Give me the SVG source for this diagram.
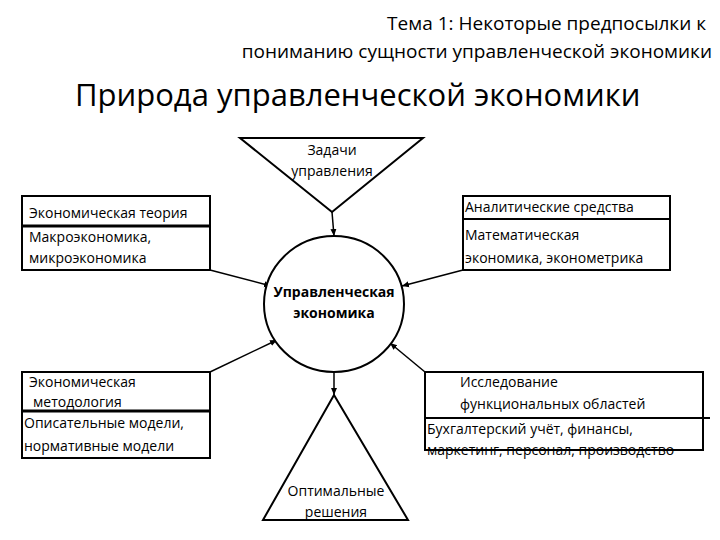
<svg xmlns="http://www.w3.org/2000/svg" width="720" height="540" viewBox="0 0 720 540">
<defs>
<style>
text{font-family:"Open Sans","Liberation Sans",sans-serif;fill:#000}
.s{font-size:14px}
.b{fill:#fff;stroke:#000;stroke-width:2}
.l{stroke:#000;stroke-width:1.5;fill:none}
</style>
<marker id="a" markerWidth="8" markerHeight="8" refX="7" refY="4" orient="auto" markerUnits="userSpaceOnUse"><path d="M0,1 L7,4 L0,7 z" fill="#000"/></marker>
</defs>
<rect width="720" height="540" fill="#fff"/>
<text x="706" y="30" font-size="19" text-anchor="end">Тема 1: Некоторые предпосылки к</text>
<text x="712" y="58" font-size="19" text-anchor="end">пониманию сущности управленческой экономики</text>
<text x="75" y="106" font-size="31">Природа управленческой экономики</text>
<g id="connectors">
<line class="l" x1="332" y1="212" x2="334" y2="236" marker-end="url(#a)"/>
<line class="l" x1="210" y1="270" x2="271" y2="286" marker-end="url(#a)"/>
<line class="l" x1="463" y1="270" x2="402" y2="286" marker-end="url(#a)"/>
<line class="l" x1="210" y1="372" x2="277" y2="340" marker-end="url(#a)"/>
<line class="l" x1="425" y1="372" x2="390" y2="343" marker-end="url(#a)"/>
<line class="l" x1="334" y1="372" x2="334" y2="395" marker-end="url(#a)"/>
</g>
<g id="tasks"><polygon class="b" points="240,138 423,138 332,212"/>
<text class="s" x="332" y="155" text-anchor="middle">Задачи</text>
<text class="s" x="332" y="176" text-anchor="middle">управления</text></g>
<g id="center"><ellipse class="b" cx="334" cy="304" rx="70" ry="68" stroke-width="2.5"/>
<text class="s" x="334" y="297" text-anchor="middle" font-weight="bold">Управленческая</text>
<text class="s" x="334" y="318" text-anchor="middle" font-weight="bold">экономика</text></g>
<g id="theory"><rect class="b" x="22" y="196" width="188" height="74"/>
<line x1="22" y1="226" x2="210" y2="226" stroke="#000" stroke-width="3"/>
<text class="s" x="29" y="218">Экономическая теория</text>
<text class="s" x="29" y="242">Макроэкономика,</text>
<text class="s" x="29" y="263">микроэкономика</text></g>
<g id="analytic"><rect class="b" x="463" y="196" width="207" height="74"/>
<line x1="463" y1="219" x2="670" y2="219" stroke="#000" stroke-width="2"/>
<text class="s" x="465" y="212">Аналитические средства</text>
<text class="s" x="465" y="240">Математическая</text>
<text class="s" x="465" y="263">экономика, эконометрика</text></g>
<g id="method"><rect class="b" x="22" y="372" width="188" height="86"/>
<line x1="22" y1="411" x2="210" y2="411" stroke="#000" stroke-width="3"/>
<text class="s" x="29" y="387">Экономическая</text>
<text class="s" x="33" y="407">методология</text>
<text class="s" x="24" y="428">Описательные модели,</text>
<text class="s" x="24" y="451">нормативные модели</text></g>
<g id="functional"><rect class="b" x="425" y="372" width="278" height="78"/>
<line x1="425" y1="418" x2="710" y2="418" stroke="#000" stroke-width="2"/>
<text class="s" x="460" y="387">Исследование</text>
<text class="s" x="460" y="409">функциональных областей</text>
<text class="s" x="427" y="434">Бухгалтерский учёт, финансы,</text>
<text class="s" x="427" y="455">маркетинг, персонал, производство</text></g>
<g id="optimal"><polygon class="b" points="334,395 263,520 408,520"/>
<text class="s" x="336" y="496" text-anchor="middle">Оптимальные</text>
<text class="s" x="336" y="517" text-anchor="middle">решения</text></g>
</svg>
